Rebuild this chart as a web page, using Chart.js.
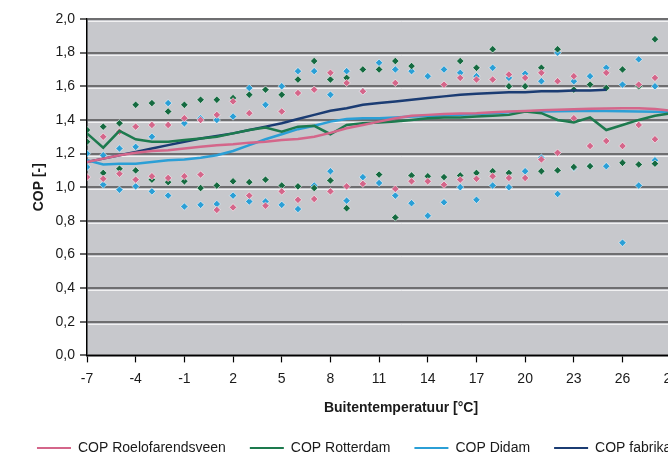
<!DOCTYPE html>
<html>
<head>
<meta charset="utf-8">
<script src="https://cdn.jsdelivr.net/npm/chart.js@4/dist/chart.umd.min.js"></script>
<style>
html,body{margin:0;padding:0;background:#fff;overflow:hidden;}
#box{width:720px;height:465px;position:relative;}
</style>
</head>
<body>
<div id="box"><canvas id="graf"></canvas></div>
<script>
// buitentemperatuur -7 .. 29
var temperature=[-7,-6,-5,-4,-3,-2,-1,0,1,2,3,4,5,6,7,8,9,10,11,12,13,14,15,16,17,18,19,20,21,22,23,24,25,26,27,28,29];
var tickX=[-7,-4,-1,2,5,8,11,14,17,20,23,26,29];

// lijnen
var copRoelof=[1.15,1.17,1.19,1.205,1.215,1.22,1.23,1.24,1.25,1.255,1.265,1.27,1.28,1.287,1.30,1.323,1.35,1.37,1.39,1.41,1.425,1.43,1.435,1.438,1.44,1.445,1.45,1.453,1.457,1.46,1.463,1.466,1.468,1.47,1.47,1.465,1.455];
var copRotterdam=[1.32,1.235,1.335,1.285,1.27,1.27,1.28,1.29,1.30,1.32,1.34,1.355,1.33,1.36,1.365,1.315,1.37,1.38,1.385,1.39,1.40,1.41,1.415,1.415,1.42,1.425,1.43,1.45,1.44,1.40,1.385,1.415,1.34,1.37,1.40,1.425,1.44];
var copDidam=[1.16,1.135,1.14,1.14,1.15,1.16,1.165,1.175,1.19,1.215,1.25,1.285,1.315,1.345,1.365,1.39,1.405,1.41,1.41,1.415,1.42,1.423,1.427,1.43,1.435,1.44,1.445,1.448,1.45,1.452,1.453,1.453,1.453,1.452,1.45,1.448,1.445];
var copFabrikant=[1.15,1.17,1.19,1.21,1.23,1.25,1.27,1.29,1.305,1.32,1.34,1.36,1.38,1.405,1.43,1.455,1.47,1.49,1.50,1.51,1.52,1.53,1.54,1.55,1.555,1.56,1.565,1.565,1.57,1.57,1.575,1.575,1.58,null,null,null,null];

// losse meetpunten (boven en onder)
var roelofMax=[null,1.30,1.33,1.36,1.37,1.37,1.41,1.40,1.43,1.51,1.44,null,1.45,1.56,1.58,1.68,1.62,1.57,null,1.62,null,null,1.61,1.65,1.64,1.64,1.67,1.65,1.68,1.63,1.66,null,1.68,null,1.61,1.65,null];
var roelofMin=[1.06,1.05,1.08,1.045,1.065,1.055,1.065,1.075,0.865,0.88,0.95,0.89,0.975,0.925,0.93,0.975,1.005,1.02,null,0.99,1.035,1.035,1.015,1.045,1.05,1.065,1.055,1.055,1.165,1.205,1.41,1.245,1.275,1.245,1.37,1.285,null];
var rotterdamMax=[1.34,1.36,1.38,1.49,1.50,1.45,1.49,1.52,1.52,1.53,1.55,1.58,1.55,1.64,1.75,1.64,1.65,1.70,1.70,1.75,1.72,null,null,1.75,1.71,1.82,1.60,1.60,1.71,1.82,1.58,1.61,1.59,1.70,1.60,1.88,null];
var rotterdamMin=[1.27,1.085,1.11,1.10,1.045,1.03,1.035,0.995,1.01,1.035,1.03,1.045,1.01,1.005,0.995,1.04,0.875,null,1.075,0.82,1.07,1.065,1.06,1.07,1.085,1.095,1.085,null,1.095,1.10,1.12,1.125,null,1.145,1.135,1.14,null];
var didamMax=[1.20,1.19,1.23,1.24,1.30,1.50,1.38,1.41,1.40,1.42,1.59,1.49,1.60,1.69,1.69,1.55,1.69,1.57,1.74,1.70,1.69,1.66,1.70,1.68,1.66,1.71,1.65,1.675,1.63,1.80,1.63,1.66,1.71,1.61,1.76,1.60,null];
var didamMin=[1.12,1.015,0.985,1.005,0.975,0.95,0.885,0.895,0.90,0.95,0.915,0.915,0.895,0.87,1.01,1.095,0.92,1.06,1.025,0.95,0.905,0.83,0.91,1.00,0.925,1.01,1.00,1.095,1.175,0.96,1.115,1.125,1.125,0.67,1.01,1.16,null];

var roze="#d4668a", groen="#1d7a4e", groenPunt="#156a40", blauw="#2b9fd6", donkerblauw="#1b3c73";
var lettertype="'Liberation Sans', Arial, sans-serif";

function punten(arr){
    var out=[];
    for(var i=0;i<temperature.length;i++)
        if(arr[i]!==null) out.push({x:temperature[i],y:arr[i]});
    return out;
}

function lijn(label,arr,kleur){
    return {label:label,data:punten(arr),borderColor:kleur,backgroundColor:kleur,borderWidth:2.5,pointRadius:0,fill:false,tension:0};
}

function wolk(arr,kleur){
    return {label:"",data:punten(arr),showLine:false,pointStyle:"rectRot",pointRadius:3.7,borderWidth:1,
            borderColor:"rgba(255,255,255,0.55)",backgroundColor:kleur,isPunt:true};
}

var sfondo={
    id:"sfondo",
    beforeDraw:function(chart){
        var a=chart.chartArea, ctx=chart.ctx;
        ctx.save();
        ctx.fillStyle="#c7c8cc";
        ctx.fillRect(a.left,a.top,a.right-a.left,a.bottom-a.top);
        ctx.restore();
    },
    beforeDatasetsDraw:function(chart){
        var y=chart.scales.y, a=chart.chartArea, ctx=chart.ctx;
        ctx.save();
        ctx.strokeStyle="rgba(255,255,255,0.75)";
        ctx.lineWidth=1;
        y.ticks.forEach(function(t){
            var py=Math.round(y.getPixelForValue(t.value))+2.5;
            if(py<a.bottom-2){
                ctx.beginPath(); ctx.moveTo(a.left+1,py); ctx.lineTo(a.right,py); ctx.stroke();
            }
        });
        ctx.restore();
    }
};

var grafico=new Chart("graf",{
    type:"line",
    data:{
        datasets:[
            lijn("COP Roelofarendsveen",copRoelof,roze),
            lijn("COP Rotterdam",copRotterdam,groen),
            lijn("COP Didam",copDidam,blauw),
            lijn("COP fabrikant",copFabrikant,donkerblauw),
            wolk(roelofMax,roze),
            wolk(roelofMin,roze),
            wolk(rotterdamMax,groenPunt),
            wolk(rotterdamMin,groenPunt),
            wolk(didamMax,blauw),
            wolk(didamMin,blauw)
        ]
    },
    options:{
        responsive:true,
        maintainAspectRatio:false,
        animation:false,
        layout:{padding:{top:19,left:0,right:0,bottom:0}},
        plugins:{
            tooltip:{enabled:false},
            legend:{
                position:"bottom",
                labels:{
                    font:{family:lettertype,size:14},
                    color:"#1a1a1a",
                    boxWidth:34,
                    boxHeight:2,
                    padding:24,
                    generateLabels:function(chart){
                        var l=Chart.defaults.plugins.legend.labels.generateLabels(chart);
                        return l.filter(function(it){return !chart.data.datasets[it.datasetIndex].isPunt;})
                                .map(function(it){it.lineWidth=0;return it;});
                    }
                }
            }
        },
        scales:{
            x:{
                type:"linear",
                min:-7,
                max:31.7,
                afterBuildTicks:function(s){ s.ticks=tickX.map(function(v){return {value:v};}); },
                ticks:{font:{family:lettertype,size:14},color:"#1a1a1a",padding:8,maxRotation:0,autoSkip:false,
                       callback:function(v){return String(v);}},
                grid:{drawOnChartArea:false,drawTicks:true,tickLength:7,tickColor:"#000",tickWidth:1.2},
                border:{color:"#000",width:1.5},
                title:{display:true,text:"Buitentemperatuur [°C]",font:{family:lettertype,size:14,weight:"bold"},color:"#1a1a1a",padding:{top:5,bottom:0}}
            },
            y:{
                min:0,
                max:2,
                afterFit:function(s){ s.width=87; },
                ticks:{stepSize:0.2,font:{family:lettertype,size:14},color:"#1a1a1a",padding:5,
                       callback:function(v){return v.toFixed(1).replace(".",",");}},
                grid:{color:"#6e6e70",lineWidth:2,tickLength:7,tickColor:"#000",tickWidth:1.2},
                border:{color:"#000",width:1.5},
                title:{display:true,text:"COP [-]",font:{family:lettertype,size:14,weight:"bold"},color:"#1a1a1a",padding:{top:31,bottom:0}}
            }
        }
    },
    plugins:[sfondo]
});
</script>
</body>
</html>
